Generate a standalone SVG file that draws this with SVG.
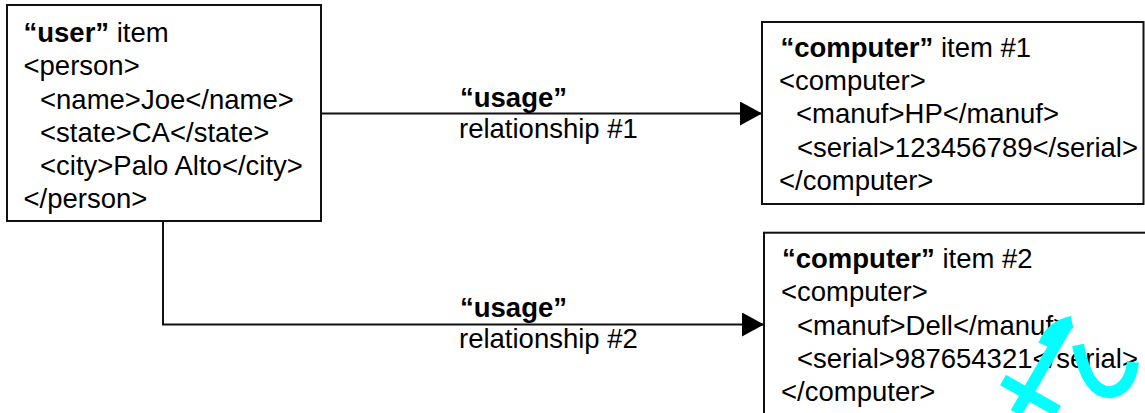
<svg xmlns="http://www.w3.org/2000/svg" width="1145" height="413" viewBox="0 0 1145 413">
  <style>
    .box { fill: #fff; stroke: #111; stroke-width: 2; }
    .t { font-family: "Liberation Sans", Arial, Helvetica, sans-serif; font-size: 27.5px; fill: #000; }
    .b { font-weight: bold; }
    .wire { fill: none; stroke: #111; stroke-width: 2; }
    .mark { fill: none; stroke: #00ffff; stroke-width: 12; stroke-linecap: butt; }
  </style>
  <defs>
    <marker id="arrow" markerUnits="userSpaceOnUse" markerWidth="22" markerHeight="24" refX="22" refY="12" orient="auto">
      <path d="M0,0 L22,12 L0,24 Z" fill="#000"/>
    </marker>
  </defs>
  <rect x="0" y="0" width="1145" height="413" fill="#fff"/>

  <!-- connectors -->
  <g id="connectors">
    <path class="wire" d="M321,113.5 L762,113.5" marker-end="url(#arrow)"/>
    <path class="wire" d="M163,221 L163,324.5 L764,324.5" marker-end="url(#arrow)"/>
    <g id="label-usage-1" class="t">
      <text x="460" y="106.5"><tspan class="b">“usage”</tspan></text>
      <text x="459" y="137.5">relationship #1</text>
    </g>
    <g id="label-usage-2" class="t">
      <text x="460" y="317"><tspan class="b">“usage”</tspan></text>
      <text x="459" y="348">relationship #2</text>
    </g>
  </g>

  <!-- user item -->
  <g id="user-item">
    <rect class="box" x="7" y="5" width="314" height="216"/>
    <g class="t">
      <text x="23.5" y="42"><tspan class="b">“user”</tspan> item</text>
      <text x="23.5" y="75">&lt;person&gt;</text>
      <text x="40" y="109">&lt;name&gt;Joe&lt;/name&gt;</text>
      <text x="40" y="142">&lt;state&gt;CA&lt;/state&gt;</text>
      <text x="40" y="175">&lt;city&gt;Palo Alto&lt;/city&gt;</text>
      <text x="23.5" y="208">&lt;/person&gt;</text>
    </g>
  </g>

  <!-- computer item #1 -->
  <g id="computer-item-1">
    <rect class="box" x="762" y="22" width="381.5" height="182"/>
    <g class="t">
      <text x="780.5" y="57"><tspan class="b">“computer”</tspan> item #1</text>
      <text x="779" y="90">&lt;computer&gt;</text>
      <text x="796" y="123">&lt;manuf&gt;HP&lt;/manuf&gt;</text>
      <text x="797" y="156.5">&lt;serial&gt;123456789&lt;/serial&gt;</text>
      <text x="779" y="190">&lt;/computer&gt;</text>
    </g>
  </g>

  <!-- computer item #2 -->
  <g id="computer-item-2">
    <rect class="box" x="764" y="232.7" width="390" height="200"/>
    <g class="t">
      <text x="782" y="268"><tspan class="b">“computer”</tspan> item #2</text>
      <text x="781" y="301">&lt;computer&gt;</text>
      <text x="797" y="334.5">&lt;manuf&gt;Dell&lt;/manuf&gt;</text>
      <text x="797" y="367.5">&lt;serial&gt;987654321&lt;/serial&gt;</text>
      <text x="781" y="401">&lt;/computer&gt;</text>
    </g>
  </g>

  <!-- cyan stamp -->
  <g id="stamp">
    <path class="mark" d="M1068,323 L1016,413"/>
    <path class="mark" d="M1044,345 Q1052,326 1072,322"/>
    <path class="mark" d="M1003,380 L1058,411"/>
    <path class="mark" d="M1078,345 Q1088,395 1112,392 Q1130,388 1133,362"/>
  </g>
</svg>
